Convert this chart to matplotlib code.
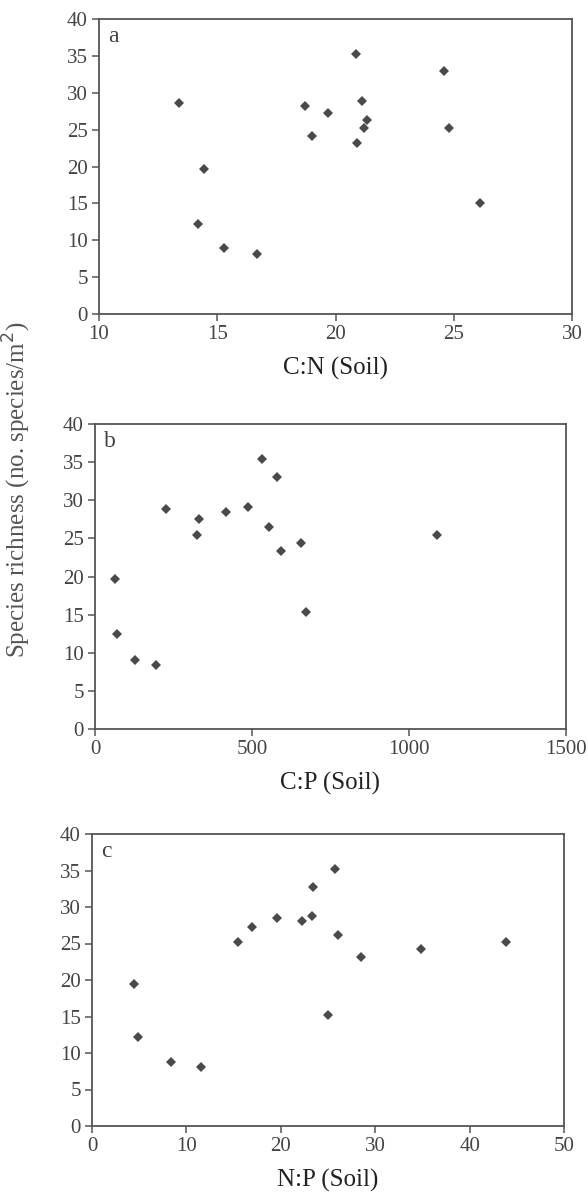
import matplotlib.pyplot as plt

plt.rcParams['font.family'] = ['Liberation Serif', 'DejaVu Serif']
plt.rcParams['font.size'] = 15

# species richness vs soil stoichiometry
cn_soil = [13.4, 14.45, 14.2, 15.3, 16.7, 18.7, 19.0, 19.7, 20.85, 21.1, 21.35, 21.2, 20.9, 24.6, 24.8, 26.1]
cn_rich = [28.6, 19.6, 12.2, 8.9, 8.2, 28.2, 24.2, 27.2, 35.3, 28.9, 26.3, 25.2, 23.2, 32.9, 25.2, 15.1]

cp_soil = [65, 70, 126, 194, 225, 332, 326, 417, 486, 532, 579, 553, 593, 655, 673, 1090]
cp_rich = [19.7, 12.4, 9.0, 8.4, 28.8, 27.5, 25.5, 28.5, 29.1, 35.4, 33.0, 26.5, 23.4, 24.4, 15.3, 25.4]

np_soil = [4.4, 4.9, 8.4, 11.5, 15.5, 17.0, 19.6, 22.2, 23.3, 23.4, 25.7, 26.1, 25.0, 28.5, 34.8, 43.9]
np_rich = [19.5, 12.2, 8.8, 8.1, 25.2, 27.2, 28.5, 28.1, 28.8, 32.8, 35.2, 26.2, 15.2, 23.2, 24.2, 25.2]

W, H = 588, 1199
fig = plt.figure(figsize=(W / 100, H / 100), dpi=100)

panels = [
    # (left, top, right, bottom) in pixels, x data, y data, xlim, xticks, xlabel, letter
    ((99, 19, 572, 314), cn_soil, cn_rich, (10, 30), [10, 15, 20, 25, 30], 'C:N (Soil)', 'a'),
    ((95, 424, 566, 729), cp_soil, cp_rich, (0, 1500), [0, 500, 1000, 1500], 'C:P (Soil)', 'b'),
    ((92, 834, 564, 1126), np_soil, np_rich, (0, 50), [0, 10, 20, 30, 40, 50], 'N:P (Soil)', 'c'),
]

grey = '#555555'
for (l, t, r, b), xs, ys, xlim, xticks, xlabel, letter in panels:
    ax = fig.add_axes([l / W, 1 - b / H, (r - l) / W, (b - t) / H])
    ax.plot(xs, ys, 'D', color='#4a4a4a', markersize=4.6, markeredgewidth=0)
    ax.set_xlim(*xlim)
    ax.set_ylim(0, 40)
    ax.set_xticks(xticks)
    ax.set_yticks(range(0, 41, 5))
    ax.tick_params(direction='out', length=5, width=1.1, color=grey,
                   labelcolor='#444444', labelsize=15, pad=3)
    for s in ax.spines.values():
        s.set_color(grey)
        s.set_linewidth(1.3)
    ax.set_xlabel(xlabel, fontsize=18, color='#222222', labelpad=9)
    ax.text(9 / (r - l), 1 - 23 / (b - t), letter, transform=ax.transAxes,
            fontsize=17, color='#444444', va='baseline', ha='left')

fig.text(17 / W, 1 - 490 / H, 'Species richness (no. species/m$^2$)',
         rotation=90, ha='center', va='center', fontsize=18, color='#555555')

plt.savefig('out.png', dpi=100)
